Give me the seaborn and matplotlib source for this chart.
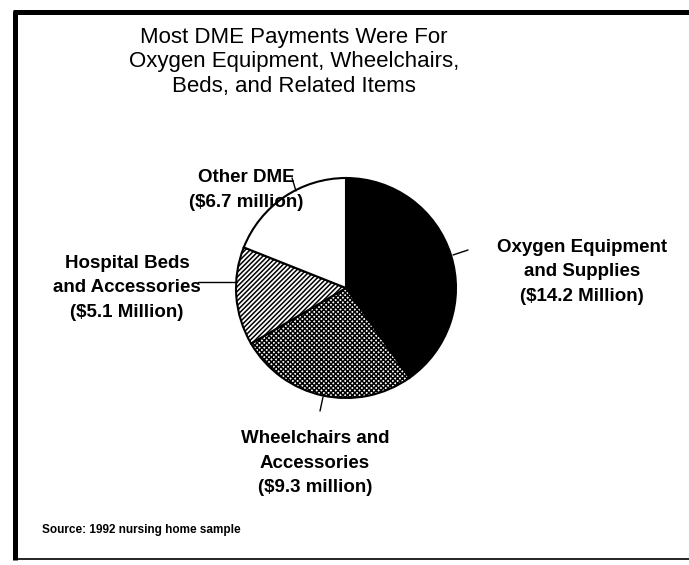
import matplotlib
matplotlib.use("Agg")
import matplotlib.pyplot as plt
import numpy as np
import pandas as pd
import seaborn as sns

# ---- data ----
categories = ["Oxygen Equipment and Supplies", "Wheelchairs and Accessories",
              "Hospital Beds and Accessories", "Other DME"]
label_heads = ["Oxygen Equipment\nand Supplies", "Wheelchairs and\nAccessories",
               "Hospital Beds\nand Accessories", "Other DME"]
payments = [14.2, 9.3, 5.1, 6.7]          # $ million
unit_words = ["Million", "million", "Million", "million"]
title = "Most DME Payments Were For\nOxygen Equipment, Wheelchairs,\nBeds, and Related Items"
source = "Source: 1992 nursing home sample"

df = pd.DataFrame({"category": categories, "payment": payments,
                   "head": label_heads, "unit": unit_words})

sns.set_theme(style="white")
plt.rcParams["font.family"] = ["Liberation Sans", "DejaVu Sans"]
plt.rcParams["hatch.linewidth"] = 1.1
plt.rcParams["hatch.color"] = "black"
plt.rcParams["text.color"] = "black"

W, H = 689, 565
fig = plt.figure(figsize=(W / 100, H / 100), dpi=100)
ax = fig.add_axes([0, 0, 1, 1])

def Y(y):
    return H - y

cx, cy, r = 346, 288, 110
colors = ["black", "white", "white", "white"]
hatches = ["", "xxxxxxx", "///////", ""]

wedges, _ = ax.pie(df["payment"], colors=colors, startangle=90, counterclock=False,
                   center=(cx, Y(cy)), radius=r,
                   wedgeprops=dict(edgecolor="black", linewidth=1.5))
for w, h in zip(wedges, hatches):
    w.set_hatch(h)

ax.set_xlim(0, W)
ax.set_ylim(0, H)
ax.set_aspect("equal")
ax.axis("off")

# labels
label_pos = [(582, 272), (315, 463), (127, 288), (246, 190)]
for (x, y), head, val, unit in zip(label_pos, df["head"], df["payment"], df["unit"]):
    ax.text(x, Y(y), f"{head}\n(${val:.1f} {unit})", ha="center", va="center",
            fontsize=13.5, fontweight="bold", linespacing=1.58, color="black")

# leader lines
leaders = [((453, 255), (468, 250)), ((323, 397), (320, 411)),
           ((198, 282), (237, 282)), ((296, 191), (292, 178))]
for (x0, y0), (x1, y1) in leaders:
    ax.plot([x0, x1], [Y(y0), Y(y1)], color="black", lw=1.0)

# title and source
ax.text(294, Y(62), title, ha="center", va="center", fontsize=16, linespacing=1.22,
        color="black")
ax.text(42, Y(530), source, ha="left", va="center", fontsize=8.5, fontweight="bold",
        color="black")

# frame
ax.plot([15, 15], [Y(11), Y(560)], color="black", lw=3.6, solid_capstyle="butt")
ax.plot([13, W], [Y(12), Y(12)], color="black", lw=3.6, solid_capstyle="butt")
ax.plot([13, W], [Y(559), Y(559)], color="black", lw=1.2, solid_capstyle="butt")

fig.savefig("out.png", dpi=100, facecolor="white")
